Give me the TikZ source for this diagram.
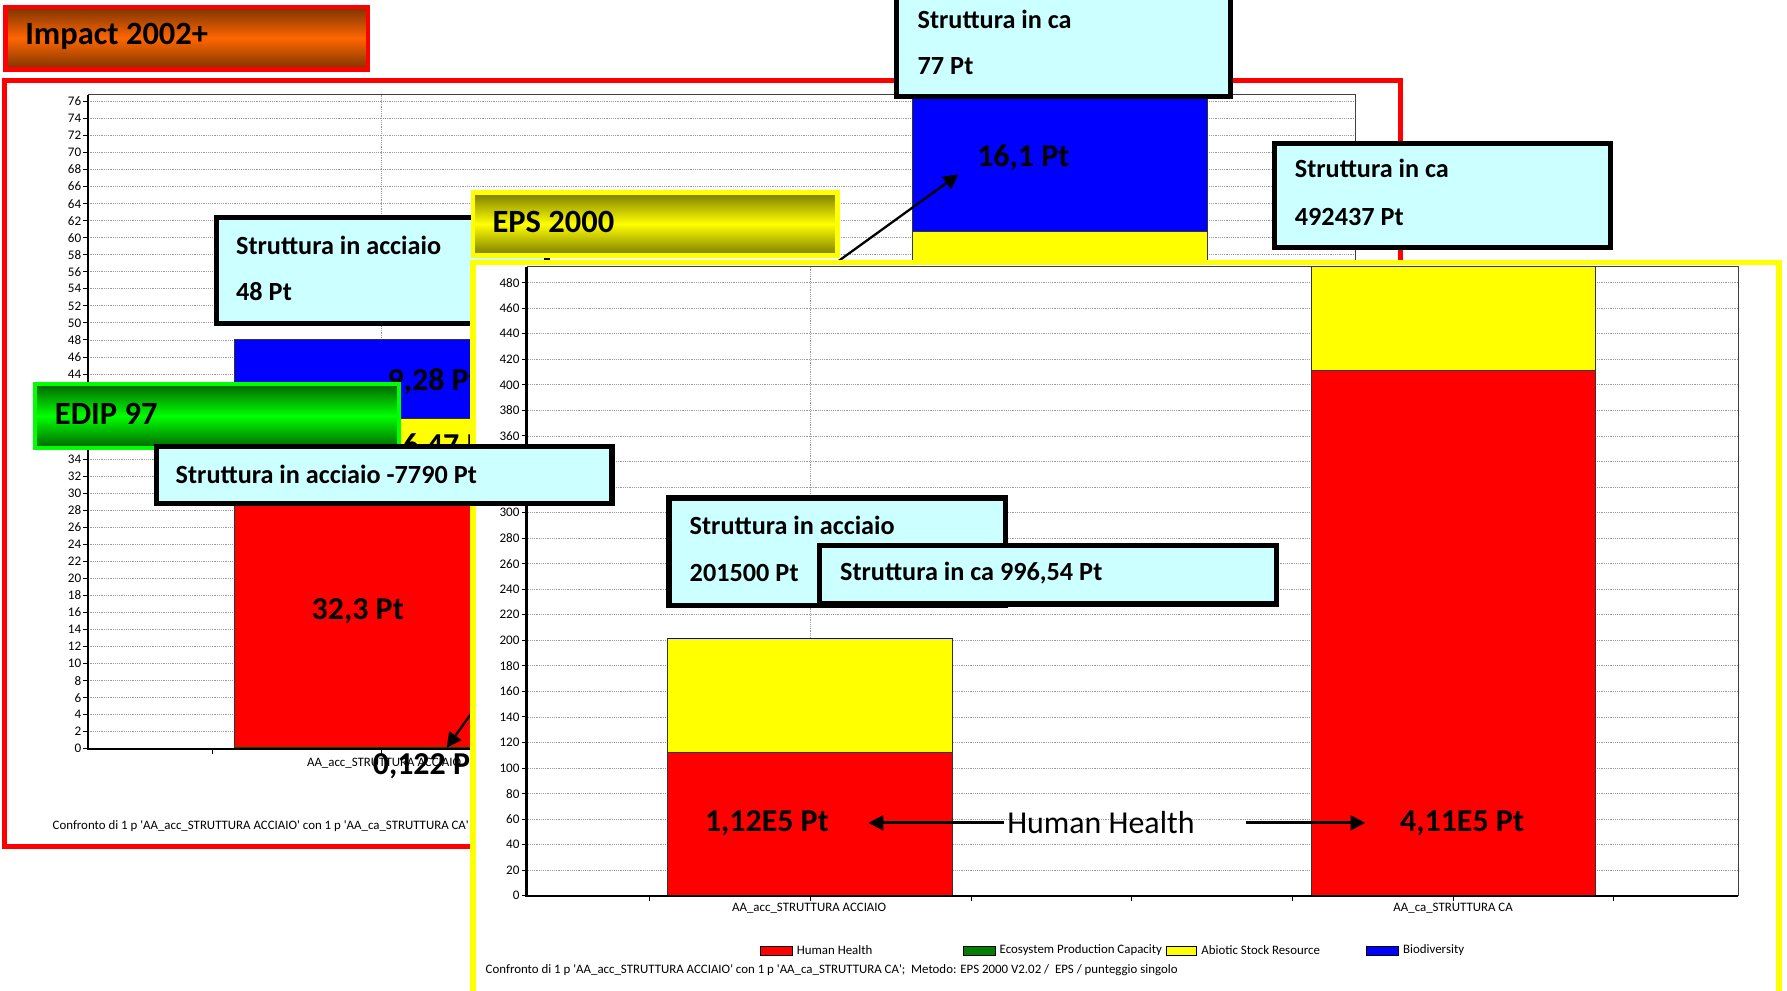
\documentclass[tikz,border=0pt]{standalone}
\usepackage{fontspec}
\setmainfont{Carlito}
\usetikzlibrary{arrows.meta}
\definecolor{boxcyan}{HTML}{CCFFFF}
\definecolor{hhred}{HTML}{FF0000}
\definecolor{absyellow}{HTML}{FFFF00}
\definecolor{bioblue}{HTML}{0000FF}
\definecolor{ecogreen}{HTML}{008000}
\definecolor{gridgray}{HTML}{9A9A9A}
\definecolor{brownd}{HTML}{7A3300}
\definecolor{orangem}{HTML}{FF6600}
\definecolor{greend}{HTML}{006400}
\definecolor{greenm}{HTML}{00FF00}
\definecolor{olived}{HTML}{7A7A00}
\newcommand\sq{\textquotesingle}
\tikzset{
  grid line/.style={gridgray, line width=0.7pt, dash pattern=on 0.8pt off 0.8pt},
  infobox/.style={draw=black, line width=4.5pt, fill=boxcyan},
  boxtext/.style={anchor=west, font=\fontsize{23}{26}\selectfont\bfseries, inner sep=0pt},
  bigval/.style={font=\fontsize{28}{32}\selectfont\bfseries, inner sep=0pt},
  axlab/.style={anchor=east, font=\fontsize{11.5}{13}\selectfont, inner sep=0pt},
  smalltext/.style={font=\fontsize{11.3}{13}\selectfont, inner sep=0pt},
  seg/.style={draw=black!80, line width=0.8pt},
  pointer/.style={line width=2.5pt, -{Triangle[length=13pt,width=13pt]}},
  titletext/.style={anchor=west, font=\fontsize{28.5}{32}\selectfont\bfseries, inner sep=0pt},
  swatch/.style={draw=black, line width=0.6pt},
}
\begin{document}
\begin{tikzpicture}[x=1pt,y=-1pt]
\useasboundingbox (0,0) rectangle (1568,869);
\clip (0,0) rectangle (1568,869);
\fill[white] (0,0) rectangle (1568,869);

% ---------- Impact 2002+ title ----------
\path[draw=red, line width=4pt, top color=brownd, bottom color=brownd, middle color=orangem] (5,6) rectangle (323,61);
\node[titletext] (impT) at (22,32) {Impact 2002+};

% ---------- Impact chart ----------
\draw[red, line width=4.5pt, fill=white] (4,71) rectangle (1229,743);
\foreach \v in {2,4,...,76} \draw[grid line] (77,{657-\v*7.4737}) -- (1189,{657-\v*7.4737});
\draw[grid line] (335,83) -- (335,657);
\draw[grid line] (930,83) -- (930,657);
\draw[black!75, line width=0.8pt] (77,83) -- (1189,83) -- (1189,657);
% bar 1 (acciaio)
\draw[seg, fill=hhred] (205.5,657) rectangle (464.5,{657-32.3*7.4737});
\draw[seg, fill=absyellow] (205.5,{657-32.3*7.4737}) rectangle (464.5,{657-38.77*7.4737});
\draw[seg, fill=bioblue] (205.5,{657-38.77*7.4737}) rectangle (464.5,{657-48.05*7.4737});
\draw[ecogreen!60!black, line width=1pt] (205.5,656) -- (464.5,656);
% bar 2 (ca)
\draw[seg, fill=hhred] (800.5,657) rectangle (1059.5,{657-50*7.4737});
\draw[seg, fill=absyellow] (800.5,{657-50*7.4737}) rectangle (1059.5,{657-60.7*7.4737});
\draw[seg, fill=bioblue] (800.5,{657-60.7*7.4737}) rectangle (1059.5,83);
% axes
\draw[black, line width=2pt] (77,83) -- (77,657) -- (1189,657);
\foreach \v in {0,2,...,76} \draw[line width=0.8pt] (73,{657-\v*7.4737}) -- (77,{657-\v*7.4737});
\foreach \v in {0,2,...,34,44,46,...,76} \node[axlab] (il\v) at (71.5,{657-\v*7.4737}) {\v};
\foreach \x in {186,335,484,632,781,930,1079} \draw[line width=0.8pt] (\x,657) -- (\x,662);
\node[smalltext] (icat) at (337,670) {AA\_acc\_STRUTTURA ACCIAIO};
\node[smalltext, anchor=west] (ifoot) at (46,725) {Confronto di 1 p \sq AA\_acc\_STRUTTURA ACCIAIO\sq\ con 1 p \sq AA\_ca\_STRUTTURA CA\sq};
% values
\node[bigval, anchor=west] (v928) at (340,335) {9,28 Pt};
\node[bigval, anchor=west] (v647) at (353,392) {6,47 Pt};
\node[bigval] (v323) at (314,536) {32,3 Pt};
\node[bigval] (v161) at (898,138) {16,1 Pt};
\node[bigval, anchor=west] (v0122) at (327,672) {0,122 Pt};
\coordinate (a0122s) at (428,606);
\coordinate (a0122e) at (392,656);
\draw[pointer, line width=2pt] (a0122s) -- (a0122e);
\coordinate (a161s) at (733,231);
\coordinate (a161e) at (841,153);
\draw[pointer, line width=2pt] (a161s) -- (a161e);

% box 77 Pt
\draw[infobox] (787,-20) rectangle (1080,85);
\node[boxtext] (b77a) at (805,17) {Struttura in ca};
\node[boxtext] (b77b) at (805,58) {77 Pt};
% box 48 Pt
\draw[infobox] (190,191) rectangle (480,284);
\node[boxtext] (b48a) at (207,215) {Struttura in acciaio};
\node[boxtext] (b48b) at (207,256) {48 Pt};

% ---------- EDIP 97 title ----------
\path[draw=greenm, line width=3.5pt, top color=greend, bottom color=greend, middle color=greenm] (31,337) rectangle (350,393);
\node[titletext] (edipT) at (48,363) {EDIP 97};

% ---------- EPS 2000 ----------
\path[draw=absyellow, line width=4pt, top color=olived, bottom color=olived, middle color=absyellow] (415,169) rectangle (735,224);
\node[titletext] (epsT) at (432,195) {EPS 2000};
\draw[absyellow, line width=4.5pt, fill=white] (415,230) rectangle (1561,900);
\foreach \v in {20,40,...,480} \draw[grid line] (462,{786-\v*1.12083}) -- (1525,{786-\v*1.12083});
\draw[grid line] (711,234) -- (711,786);
\draw[grid line] (1275,234) -- (1275,786);
\draw[black!75, line width=0.8pt] (462,234) -- (1525,234) -- (1525,786);
% bar 1
\draw[seg, fill=hhred] (586,786) rectangle (836,{786-112*1.12083});
\draw[seg, fill=absyellow] (586,{786-112*1.12083}) rectangle (836,{786-201.5*1.12083});
\draw[bioblue, line width=1pt] (586,{786-201.5*1.12083}) -- (836,{786-201.5*1.12083});
% bar 2
\draw[seg, fill=hhred] (1151,786) rectangle (1400,{786-411*1.12083});
\draw[seg, fill=absyellow] (1151,{786-411*1.12083}) rectangle (1400,234);
% axes
\draw[black, line width=2pt] (462,234) -- (462,786) -- (1525,786);
\foreach \v in {0,20,...,480} \draw[line width=0.8pt] (458,{786-\v*1.12083}) -- (462,{786-\v*1.12083});
\foreach \v in {0,20,...,300,360,380,...,480} \node[axlab] (el\v) at (456,{786-\v*1.12083}) {\v};
\foreach \x in {570,711,852,993,1134,1275,1416} \draw[line width=0.8pt] (\x,786) -- (\x,791);
\node[smalltext] (ecat1) at (710,797) {AA\_acc\_STRUTTURA ACCIAIO};
\node[smalltext] (ecat2) at (1275,797) {AA\_ca\_STRUTTURA CA};
% legend
\draw[swatch, fill=hhred] (667,830) rectangle (695,838);
\node[smalltext, anchor=west] (lg1) at (699,834) {Human Health};
\draw[swatch, fill=ecogreen] (845,830) rectangle (873,838);
\node[smalltext, anchor=west] (lg2) at (877,834) {Ecosystem Production Capacity};
\draw[swatch, fill=absyellow] (1023,830) rectangle (1050,838);
\node[smalltext, anchor=west] (lg3) at (1054,834) {Abiotic Stock Resource};
\draw[swatch, fill=bioblue] (1199,830) rectangle (1227,838);
\node[smalltext, anchor=west] (lg4) at (1231,834) {Biodiversity};
\node[smalltext, anchor=west] (efoot) at (426,851) {Confronto di 1 p \sq AA\_acc\_STRUTTURA ACCIAIO\sq\ con 1 p \sq AA\_ca\_STRUTTURA CA\sq;\ \ Metodo: EPS 2000 V2.02 /\ \ EPS / punteggio singolo};
% values and arrows
\node[bigval] (v112) at (673,722) {1,12E5 Pt};
\node[bigval] (v411) at (1283,722) {4,11E5 Pt};
\node[font=\fontsize{28}{32}\selectfont, inner sep=0pt] (hh) at (966,722) {Human Health};
\coordinate (hhL) at (762,722);
\coordinate (hhR1) at (1093,722);
\coordinate (hhR2) at (1198,722);
\draw[pointer] ([xshift=-3pt]hh.west) -- (hhL);
\draw[pointer] (hhR1) -- (hhR2);

% ---------- info boxes on top ----------
\draw[infobox] (137,392) rectangle (537,442);
\node[boxtext] (b7790) at (154,416) {Struttura in acciaio -7790 Pt};
\draw[infobox] (587,437) rectangle (882,531);
\node[boxtext] (b2015a) at (605,461) {Struttura in acciaio};
\node[boxtext] (b2015b) at (605,503) {201500 Pt};
\draw[infobox] (719,479) rectangle (1120,530);
\node[boxtext] (b996) at (737,503) {Struttura in ca 996,54 Pt};
\draw[infobox] (1118,126) rectangle (1413,217);
\node[boxtext] (b4924a) at (1136,148) {Struttura in ca};
\node[boxtext] (b4924b) at (1136,190) {492437 Pt};
\end{tikzpicture}
\end{document}
